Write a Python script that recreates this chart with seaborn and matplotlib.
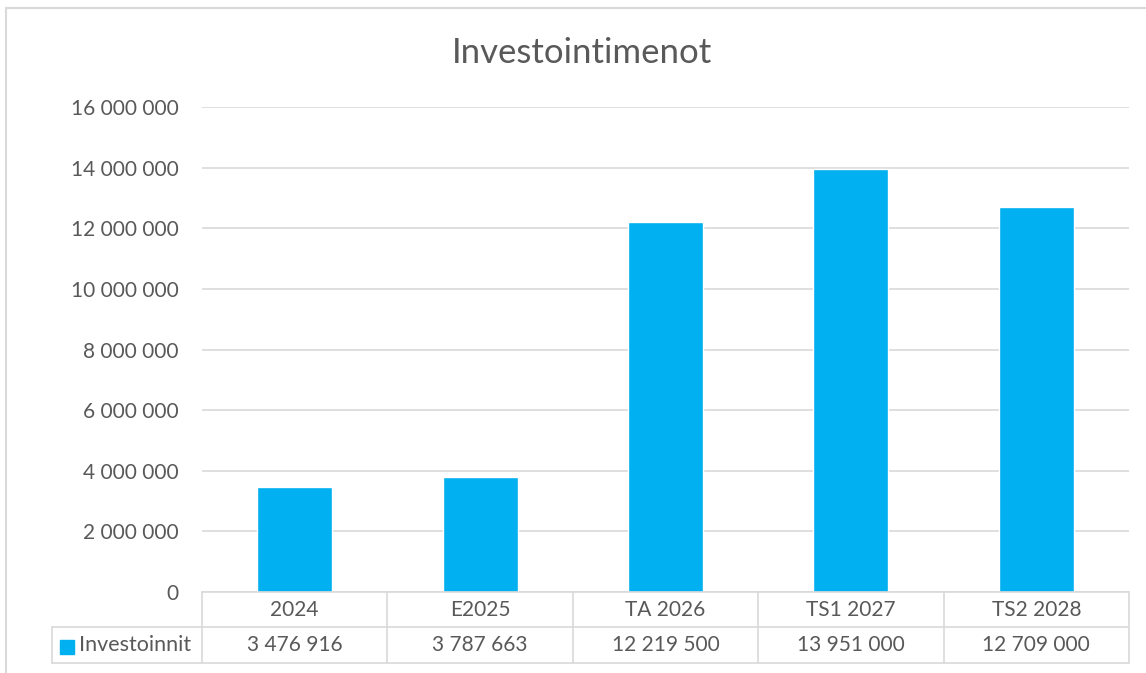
import matplotlib
matplotlib.use("Agg")
import matplotlib.pyplot as plt
import matplotlib.ticker as mticker
from matplotlib.lines import Line2D
from matplotlib.patches import Rectangle
import seaborn as sns
import pandas as pd

categories = ["2024", "E2025", "TA 2026", "TS1 2027", "TS2 2028"]
values = [3476916, 3787663, 12219500, 13951000, 12709000]
series_name = "Investoinnit"
title = "Investointimenot"
y_ticks = [0, 2000000, 4000000, 6000000, 8000000, 10000000, 12000000, 14000000, 16000000]

W, H = 1146, 673
BAR = "#00B0F0"
TXT = "#595959"
GRID = "#D9D9D9"
FS = 15


def fx(px):
    return px / W


def fy(py):
    return 1 - py / H


def fmt(v):
    return f"{int(v):,}".replace(",", " ")


sns.set_theme(style="white")
plt.rcParams["font.family"] = ["Lato", "DejaVu Sans"]

fig = plt.figure(figsize=(W / 100, H / 100), dpi=100)
left, right, top, bottom = 202, 1129, 107, 592
ax = fig.add_axes([fx(left), fy(bottom), fx(right - left), (bottom - top) / H])

df = pd.DataFrame({"cat": categories, "val": values})
sns.barplot(data=df, x="cat", y="val", color=BAR, saturation=1, width=0.405, ax=ax)

ax.set_ylim(0, 16000000)
ax.set_xlim(-0.5, len(categories) - 0.5)
ax.set_yticks(y_ticks)
ax.yaxis.set_major_formatter(mticker.FuncFormatter(lambda v, p: fmt(v)))
ax.tick_params(axis="y", labelsize=FS, colors=TXT, length=0, pad=17)
ax.set_xticks([])
ax.set_xlabel("")
ax.set_ylabel("")
ax.grid(axis="y", color=GRID, linewidth=1.2)
ax.set_axisbelow(True)
for s in ax.spines.values():
    s.set_visible(False)

fig.text(fx(582), fy(53), title, ha="center", va="center", fontsize=25, color=TXT)

# data table below the axis
col_w = (right - left) / len(categories)
r0, r1, r2 = 592, 627, 663
lw = 1.2
fig.add_artist(Line2D([fx(left), fx(right)], [fy(r0), fy(r0)], color=GRID, lw=lw))
for yy in (r1, r2):
    fig.add_artist(Line2D([fx(52), fx(right)], [fy(yy), fy(yy)], color=GRID, lw=lw))
for i in range(len(categories) + 1):
    xx = left + i * col_w
    fig.add_artist(Line2D([fx(xx), fx(xx)], [fy(r0), fy(r2)], color=GRID, lw=lw))
fig.add_artist(Line2D([fx(52), fx(52)], [fy(r1), fy(r2)], color=GRID, lw=lw))

for i, (c, v) in enumerate(zip(categories, values)):
    cx = left + (i + 0.5) * col_w
    fig.text(fx(cx), fy((r0 + r1) / 2), c, ha="center", va="center", fontsize=FS, color=TXT)
    fig.text(fx(cx), fy((r1 + r2) / 2), fmt(v), ha="center", va="center", fontsize=FS, color=TXT)

fig.add_artist(Rectangle((fx(60), fy(654)), fx(14), 14 / H, color=BAR))
fig.text(fx(79), fy((r1 + r2) / 2), series_name, ha="left", va="center", fontsize=FS + 0.5, color=TXT)

# chart frame
fig.add_artist(Line2D([fx(6), fx(W)], [fy(8), fy(8)], color=GRID, lw=1.5))
fig.add_artist(Line2D([fx(6), fx(6)], [fy(8), fy(H)], color=GRID, lw=1.5))

fig.savefig("out.png", dpi=100)
